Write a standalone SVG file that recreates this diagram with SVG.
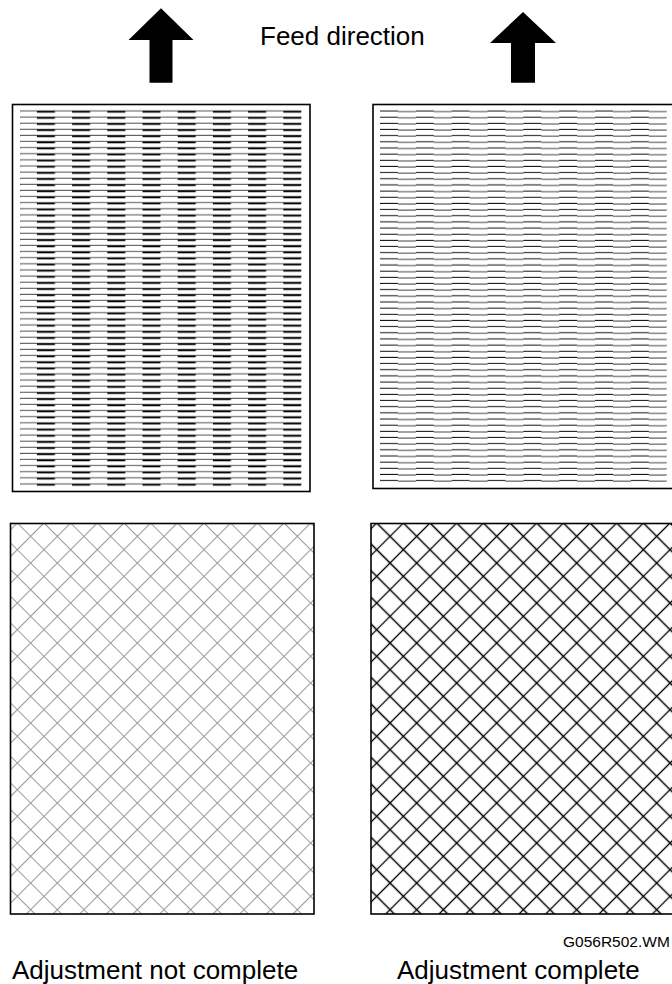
<svg xmlns="http://www.w3.org/2000/svg" width="672" height="984" viewBox="0 0 672 984">
<style>
.box{fill:#fff;stroke:#000;stroke-width:1.6}
.frame{fill:none;stroke:#000;stroke-width:1.6}
.lbl{font-family:"Liberation Sans",Arial,sans-serif;fill:#000}
.arrow{fill:#000}
</style>
<defs>
<pattern id="rowsBad" patternUnits="userSpaceOnUse" x="1.7" y="108" width="35.2" height="6.115">
<path d="M0 3H35.2" stroke="#606060" stroke-width="1"/>
<path d="M0 3.8H18" stroke="#000" stroke-width="1.7"/>
</pattern>
<pattern id="rowsGood" patternUnits="userSpaceOnUse" x="380" y="108" width="35.84" height="6.16">
<path d="M0 3H17.92" stroke="#111" stroke-width="1"/>
<path d="M17.92 3.6H35.84" stroke="#444" stroke-width="1"/>
</pattern>
<pattern id="hatchBad" patternUnits="userSpaceOnUse" width="18.856" height="18.856" patternTransform="translate(17.3 509.67) rotate(45)">
<path d="M0 9.428H18.856M9.428 0V18.856" stroke="#9a9a9a" stroke-width="1.1" fill="none"/>
</pattern>
<pattern id="hatchGood" patternUnits="userSpaceOnUse" width="18.856" height="18.856" patternTransform="translate(376.7 509.67) rotate(45)">
<path d="M0 9.428H18.856M9.428 0V18.856" stroke="#000" stroke-width="1.3" fill="none"/>
</pattern>
</defs>

<g id="arrow-left">
<polygon class="arrow" points="161,8.3 193.5,40 172.5,40 172.5,82.7 149.5,82.7 149.5,40 128.5,40"/>
</g>
<g id="arrow-right">
<polygon class="arrow" points="523,12 556,43 535,43 535,82.7 511,82.7 511,43 490,43"/>
</g>
<g id="feed-label">
<text class="lbl" x="260" y="45" font-size="26">Feed direction</text>
</g>

<g id="lines-not-complete">
<rect class="box" x="12.5" y="104.5" width="297.5" height="387"/>
<rect x="20" y="108" width="281.5" height="379.1" fill="url(#rowsBad)"/>
</g>
<g id="lines-complete">
<rect class="box" x="373" y="104.5" width="310" height="384"/>
<rect x="380" y="108" width="286.7" height="375.8" fill="url(#rowsGood)"/>
</g>
<g id="hatch-not-complete">
<rect x="10.5" y="523.5" width="303.5" height="390.5" fill="url(#hatchBad)"/>
<rect class="frame" x="10.5" y="523.5" width="303.5" height="390.5"/>
</g>
<g id="hatch-complete">
<rect x="371" y="523.5" width="310" height="390.5" fill="url(#hatchGood)"/>
<rect class="frame" x="371" y="523.5" width="310" height="390.5"/>
</g>

<g id="captions">
<text class="lbl" x="563" y="947" font-size="15.5">G056R502.WM</text>
<text class="lbl" x="12" y="979" font-size="26">Adjustment not complete</text>
<text class="lbl" x="397" y="979" font-size="26">Adjustment complete</text>
</g>
</svg>
